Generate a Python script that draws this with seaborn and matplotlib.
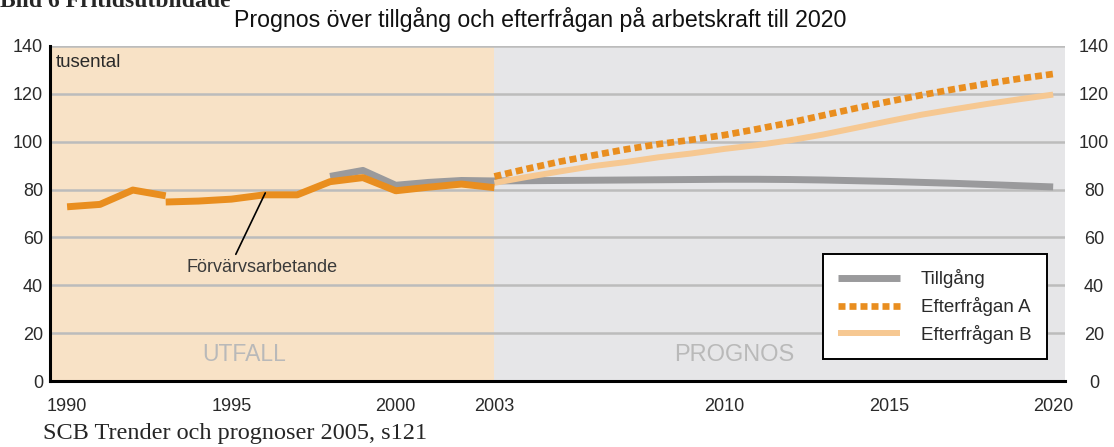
import matplotlib
matplotlib.use("Agg")
import matplotlib.pyplot as plt
import seaborn as sns

# Values (tusental)
forv_years_1 = [1990, 1991, 1992, 1993]
forv_vals_1 = [72.8, 73.8, 79.8, 77.4]
forv_years_2 = [1993, 1994, 1995, 1996, 1997, 1998, 1999, 2000, 2001, 2002, 2003]
forv_vals_2 = [74.8, 75.2, 76.0, 77.8, 77.8, 83.3, 85.0, 79.5, 81.0, 82.3, 80.8]

tillg_years = list(range(1998, 2021))
tillg_vals = [85.5, 88.0, 81.8, 83.0, 83.8, 83.6, 83.7, 83.8, 83.9, 84.0, 84.1, 84.2,
              84.3, 84.3, 84.2, 84.0, 83.7, 83.4, 83.0, 82.6, 82.1, 81.6, 81.1]

prog_years = list(range(2003, 2021))
eft_a = [85.5, 88.7, 91.7, 94.3, 96.8, 99.0, 100.8, 102.8, 105.3, 108.0, 111.0, 114.0,
         116.8, 119.5, 122.0, 124.3, 126.4, 128.3]
eft_b = [82.8, 85.3, 87.6, 89.8, 91.5, 93.5, 95.1, 97.0, 98.6, 100.6, 103.0, 105.8,
         108.6, 111.3, 113.6, 115.8, 117.8, 119.7]

x_ticks = [1990, 1995, 2000, 2003, 2010, 2015, 2020]
y_ticks = [0, 20, 40, 60, 80, 100, 120, 140]

sns.set_style("white")
plt.rcParams["font.family"] = ["Liberation Sans", "DejaVu Sans"]

orange = "#E98E1F"
light_orange = "#F6C892"
grey = "#9A9A9C"
text_col = "#2a2a2a"

fig = plt.figure(figsize=(11.14, 4.47), dpi=100)
ax = fig.add_axes([50 / 1114, 66 / 447, 1015 / 1114, 335 / 447])
ax.set_xlim(1989.48, 2020.36)
ax.set_ylim(0, 140)

# background areas: outcome vs forecast
ax.axvspan(1989.48, 2003, color="#F8E2C6", zorder=0, lw=0)
ax.axvspan(2003, 2020.36, color="#E6E6E8", zorder=0, lw=0)
ax.set_axisbelow(True)
ax.yaxis.grid(True, color="#bcbcbc", linewidth=1.8)
ax.xaxis.grid(False)

sns.lineplot(x=tillg_years, y=tillg_vals, ax=ax, color=grey, linewidth=5,
             label="Tillgång", solid_capstyle="butt")
sns.lineplot(x=prog_years, y=eft_b, ax=ax, color=light_orange, linewidth=4.3,
             label="Efterfrågan B", solid_capstyle="butt")
sns.lineplot(x=prog_years, y=eft_a, ax=ax, color=orange, linewidth=4.8,
             linestyle=(0, (1.05, 0.6)), dash_capstyle="butt", label="Efterfrågan A")
sns.lineplot(x=forv_years_1, y=forv_vals_1, ax=ax, color=orange, linewidth=5,
             solid_capstyle="butt")
sns.lineplot(x=forv_years_2, y=forv_vals_2, ax=ax, color=orange, linewidth=5,
             solid_capstyle="butt")

# axes styling
for side in ["top", "right"]:
    ax.spines[side].set_visible(False)
for side in ["left", "bottom"]:
    ax.spines[side].set_color("black")
    ax.spines[side].set_linewidth(2.2)
ax.set_xticks(x_ticks)
ax.set_yticks(y_ticks)
ax.tick_params(axis="both", length=0, labelsize=13, colors=text_col)
ax.tick_params(axis="x", pad=12)
ax.tick_params(axis="y", pad=5)
ax.set_xlabel("")
ax.set_ylabel("")

# right-hand axis labels
ax2 = ax.twinx()
ax2.set_ylim(0, 140)
ax2.set_yticks(y_ticks)
ax2.tick_params(axis="y", length=0, labelsize=13, colors=text_col, pad=21)
for lab in ax2.get_yticklabels():
    lab.set_horizontalalignment("center")
for side in ax2.spines:
    ax2.spines[side].set_visible(False)

# texts inside the plot
ax.text(0.006, 0.975, "tusental", transform=ax.transAxes, ha="left", va="top",
        fontsize=13.5, color=text_col)
ax.text(1995.4, 10.9, "UTFALL", ha="center", va="center", fontsize=16.5, color="#b9b9b9")
ax.text(2010.3, 10.9, "PROGNOS", ha="center", va="center", fontsize=17, color="#b9b9b9")
ax.annotate("Förvärvsarbetande", xy=(1996.03, 78.6), xytext=(1995.94, 47.5),
            ha="center", va="center", fontsize=13, color="#3a3a3a",
            arrowprops=dict(arrowstyle="-", color="black", lw=1.2,
                            shrinkA=1, shrinkB=0, relpos=(0.31, 1.0)))

# legend
handles, labels = ax.get_legend_handles_labels()
order = [labels.index("Tillgång"), labels.index("Efterfrågan A"), labels.index("Efterfrågan B")]
leg = ax.legend([handles[i] for i in order], [labels[i] for i in order],
                loc="lower right", bbox_to_anchor=(0.982, 0.066), fontsize=13.5,
                frameon=True, fancybox=False, edgecolor="black", framealpha=1,
                handlelength=3.3, handletextpad=1.15, labelspacing=0.47,
                borderpad=0.8, borderaxespad=0)
leg.get_frame().set_linewidth(1.4)
for t in leg.get_texts():
    t.set_color(text_col)

# titles and source
fig.text(540 / 1114, 1 - 20 / 447, "Prognos över tillgång och efterfrågan på arbetskraft till 2020",
         ha="center", va="center", fontsize=16.7, color="#111111")
fig.text(0.0, 1 - 7 / 447, "Bild 6 Fritidsutbildade", ha="left", va="baseline",
         fontsize=17, fontweight="bold", family=["Liberation Serif", "DejaVu Serif"])
fig.text(43 / 1114, 1 - 433 / 447, "SCB Trender och prognoser 2005, s121", ha="left",
         va="center", fontsize=17.5, family=["Liberation Serif", "DejaVu Serif"])

fig.savefig("out.png", dpi=100)
